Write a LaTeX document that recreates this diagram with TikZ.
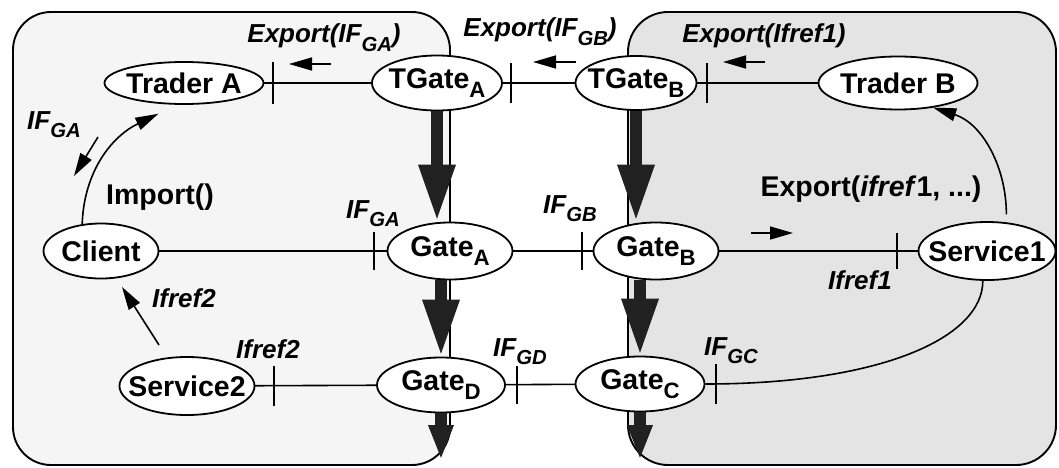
\documentclass[tikz,border=0pt]{standalone}
\usepackage{fontspec}
\setmainfont{Liberation Sans}
\usetikzlibrary{shapes.geometric,arrows.meta}

\newcommand{\lowsub}[1]{\raisebox{-0.32em}{\scalebox{0.78}{#1}}}

\begin{document}
\begin{tikzpicture}[x=1pt,y=1pt,
  obj/.style={ellipse, draw, fill=white, line width=1.8pt, inner xsep=-25pt, inner ysep=-10pt,
    font=\fontsize{28.5}{30}\selectfont\bfseries},
  lbl/.style={font=\fontsize{26}{28}\selectfont\bfseries\itshape, inner sep=0pt, anchor=base},
  txt/.style={font=\fontsize{28.5}{30}\selectfont\bfseries, inner sep=0pt, anchor=base},
  link/.style={line width=1.6pt},
  flow/.style={line width=1.6pt, -{Triangle[length=23pt,width=13pt]}},
  bigflow/.style={line width=12pt, draw=black!87, -{Triangle[length=57pt,width=34pt]}},
  outflow/.style={line width=12pt, draw=black!87, -{Triangle[length=35pt,width=23pt]}}]
  \useasboundingbox (0,0) rectangle (1059,467);

  % the two domains
  \draw[line width=1.9pt, fill=gray!8, rounded corners=38pt] (13,2) rectangle (450,455);
  \draw[line width=1.9pt, fill=gray!21, rounded corners=40pt] (628,2) rectangle (1056,455);

  % links between the objects
  \draw[link] (184,384) -- (437,384);
  \draw[link] (437,384) -- (636,384);
  \draw[link] (636,384) -- (898,384);
  \draw[link] (101,216) -- (450,216);
  \draw[link] (450,216) -- (656,216);
  \draw[link] (656,216) -- (987,216);
  \draw[link] (187,81) -- (441,82);
  \draw[link] (441,82) -- (640,83);

  \node[obj, minimum width=159pt, minimum height=42pt] (tradera) at (184,384) {Trader A};
  \node[obj, minimum width=130pt, minimum height=55pt] (tgatea) at (437,384) {TGate\lowsub{A}};
  \node[obj, minimum width=121pt, minimum height=54pt] (tgateb) at (636,384) {TGate\lowsub{B}};
  \node[obj, minimum width=159pt, minimum height=53pt] (traderb) at (898,384) {Trader B};
  \node[obj, minimum width=115pt, minimum height=55pt] (client) at (101,216) {Client};
  \node[obj, minimum width=125pt, minimum height=57pt] (gatea) at (450,216) {Gate\lowsub{A}};
  \node[obj, minimum width=125pt, minimum height=57pt] (gateb) at (656,216) {Gate\lowsub{B}};
  \node[obj, minimum width=137pt, minimum height=58pt] (service1) at (987,216) {Service1};
  \node[obj, minimum width=135pt, minimum height=58pt] (service2) at (187,81) {Service2};
  \node[obj, minimum width=128pt, minimum height=55pt] (gated) at (441,82) {Gate\lowsub{D}};
  \node[obj, minimum width=129pt, minimum height=55pt] (gatec) at (640,83) {Gate\lowsub{C}};

  % interface bars
  \draw[link] ([xshift=8.5pt]tradera.east) +(0,-21) -- +(0,21);
  \draw[link] ([xshift=8pt]tgatea.east) +(0,-20) -- +(0,20);
  \draw[link] ([xshift=9.5pt]tgateb.east) +(0,-20) -- +(0,20);
  \draw[link] ([xshift=-12.5pt]gatea.west) +(0,-19) -- +(0,19);
  \draw[link] ([xshift=-10.5pt]gateb.west) +(0,-19) -- +(0,19);
  \draw[link] ([xshift=-20.5pt]service1.west) +(0,-18) -- +(0,18);
  \draw[link] ([xshift=18.5pt]service2.east) +(0,-20) -- +(0,20);
  \draw[link] ([xshift=11pt]gated.east) +(0,-19) -- +(0,19);
  \draw[link] ([xshift=10.5pt]gatec.east) +(0,-20) -- +(0,20);

  \draw[link] (service1.262) .. controls +(0,-57) and +(175,0) .. (gatec.east);
  \draw[flow] (client.125) to[out=88, in=206] ([yshift=-10pt]tradera.219);
  \draw[flow, shorten <=8pt] (service1.56) to[out=90, in=-18] (traderb.325);

  % gate chains
  \draw[bigflow] (tgatea.south) -- (tgatea.south |- gatea.north);
  \draw[bigflow] (tgateb.south) -- (tgateb.south |- gateb.north);
  \draw[bigflow] (gated.north |- gatea.south) -- (gated.north);
  \draw[bigflow] (gatec.north |- gateb.south) -- (gatec.north);
  \coordinate (outd) at (441,7);
  \coordinate (outc) at (640,7);
  \draw[outflow] (gated.south) -- (outd);
  \draw[outflow] (gatec.south) -- (outc);

  % small arrows
  \draw[flow] (331,403) -- (289,403);
  \draw[flow] (576,405) -- (533,405);
  \draw[flow] (765,405) -- (723,405);
  \draw[flow] (751,234) -- (793,234);
  \draw[flow] (98,330) -- (74,291);
  \draw[flow] (159,122) -- (122,180);

  % labels
  \node[lbl] (lexpa) at (324,424) {Export(IF\lowsub{GA})};
  \node[lbl] (lexpb) at (540,430) {Export(IF\lowsub{GB})};
  \node[lbl] (lexpr) at (764,424) {Export(Ifref1)};
  \node[lbl] (lifga) at (54,338) {IF\lowsub{GA}};
  \node[txt] (limp) at (160,263) {Import()};
  \node[lbl] (lifgab) at (373,249) {IF\lowsub{GA}};
  \node[lbl] (lifgb) at (570,254) {IF\lowsub{GB}};
  \node[txt] (lexps) at (871,271) {Export(\textit{ifref}1, ...)};
  \node[lbl] (lref1) at (860,178) {Ifref1};
  \node[lbl] (lref2a) at (184,160) {Ifref2};
  \node[lbl] (lref2b) at (268,109) {Ifref2};
  \node[lbl] (lifgd) at (520,111) {IF\lowsub{GD}};
  \node[lbl] (lifgc) at (731,112) {IF\lowsub{GC}};
\end{tikzpicture}
\end{document}
